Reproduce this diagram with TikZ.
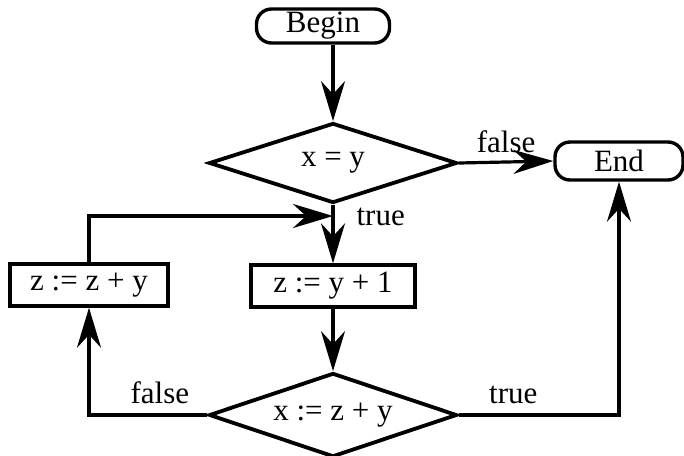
\documentclass[tikz,border=0pt]{standalone}
\usepackage{fontspec}
\setmainfont{Liberation Serif}
\usetikzlibrary{shapes.geometric,arrows.meta}

\begin{document}
\begin{tikzpicture}[x=1pt,y=-1pt,font=\fontsize{31}{33}\selectfont,
  term/.style={draw,line width=3.4pt,rounded corners=15pt,inner sep=0pt},
  proc/.style={draw,line width=3.4pt,minimum height=42pt,inner sep=0pt},
  test/.style={draw,diamond,aspect=3,line width=3.8pt,minimum width=248pt,inner sep=0pt},
  flow/.style={line width=3.2pt,-{Stealth[length=40pt,width=24pt,inset=13pt]}},
  lbl/.style={inner sep=2pt}]
\useasboundingbox (0,0) rectangle (684,455);
% terminals
\node[term,minimum width=133pt,minimum height=34pt] (begin) at (323,26) {Begin};
\node[term,minimum width=128pt,minimum height=38pt] (end) at (619,161) {End};
% tests
\node[test,minimum height=80pt] (eq) at (333,163) {x = y};
\node[test,minimum height=84pt] (asgx) at (333,415) {x := z + y};
% assignments
\node[proc,minimum width=164pt] (asgz) at (333,286) {z := y + 1};
\node[proc,minimum width=158pt] (addz) at (89,285) {z := z + y};
\coordinate (join) at (333,216);
% connectors
\draw[flow] (begin.south -| eq.north) -- (eq.north);
\draw[flow] (eq.east) -- node[lbl,above=6pt] {false} (end.west);
\draw[flow] (eq.south) -- node[lbl,pos=0.2,right=20pt] {true} (asgz.north);
\draw[flow] (addz.north) |- (join);
\draw[flow] (asgz.south) -- (asgx.north);
\draw[flow] (asgx.west) -| node[lbl,pos=0.2,above=8pt] {false} (addz.south);
\draw[flow] (asgx.east) -| node[lbl,pos=0.17,above=8pt] {true} (end.south);
\end{tikzpicture}
\end{document}
